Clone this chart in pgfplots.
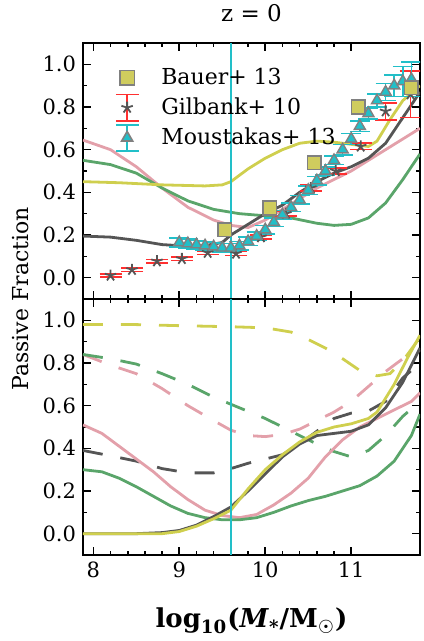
\documentclass[border=0pt]{standalone}
\usepackage{pgfplots}
\pgfplotsset{compat=1.18}
\usepgfplotslibrary{groupplots}
\usepackage{pgfplotstable}
\usepackage{fontspec}
\setmainfont{DejaVu Serif}
\newfontfamily\symfont{DejaVu Sans}
\usetikzlibrary{calc}

\definecolor{myyellow}{HTML}{CFCF4E}
\definecolor{mypink}{HTML}{E3A0AA}
\definecolor{mygreen}{HTML}{5AA56A}
\definecolor{mygrey}{HTML}{555555}
\definecolor{mycyan}{HTML}{22BFC8}
\definecolor{myred}{HTML}{FF3030}
\definecolor{sqfill}{HTML}{CFCC5E}

% observations, z = 0
\pgfplotstableread{
x y
9.53 0.225
10.05 0.327
10.57 0.538
11.08 0.80
11.70 0.89
}\bauer
\pgfplotstableread{
x y e
8.20 0.010 0.008
8.45 0.037 0.008
8.74 0.077 0.008
9.03 0.088 0.008
9.33 0.117 0.008
9.66 0.113 0.010
9.95 0.190 0.010
10.24 0.300 0.012
10.53 0.420 0.015
10.82 0.500 0.015
11.11 0.615 0.015
11.40 0.780 0.040
11.69 0.860 0.110
}\gilbank
\pgfplotstableread{
x y e
9.0 0.165 0.02
9.1 0.160 0.02
9.2 0.155 0.02
9.3 0.150 0.02
9.4 0.145 0.02
9.5 0.140 0.02
9.6 0.140 0.02
9.7 0.150 0.02
9.8 0.170 0.02
9.9 0.195 0.02
10.0 0.225 0.02
10.1 0.260 0.02
10.2 0.295 0.02
10.3 0.330 0.02
10.4 0.365 0.02
10.5 0.410 0.02
10.6 0.455 0.02
10.7 0.500 0.02
10.8 0.550 0.02
10.9 0.600 0.025
11.0 0.650 0.025
11.1 0.710 0.025
11.2 0.770 0.025
11.3 0.830 0.03
11.4 0.870 0.04
11.5 0.900 0.05
11.6 0.920 0.07
11.7 0.930 0.08
}\moustakas

\pgfplotsset{
  model/.style={line width=1.4pt, no markers, forget plot},
  mdash/.style={line width=1.4pt, no markers, forget plot, dash pattern=on 10pt off 9pt},
}

\begin{document}
\begin{tikzpicture}
\begin{groupplot}[group style={group size=1 by 2, vertical sep=0pt, x descriptions at=edge bottom},
    scale only axis, width=168.5pt, height=128pt,
    xmin=7.88, xmax=11.8, ymin=-0.1, ymax=1.1,
    xtick={8,9,10,11}, minor x tick num=4,
    ytick={0,0.2,0.4,0.6,0.8,1.0}, minor y tick num=1,
    tick align=inside, tick pos=both,
    major tick length=4pt, minor tick length=2pt,
    axis line style={line width=0.9pt},
    every tick/.style={black, line width=0.8pt},
    /pgf/number format/assume math mode=true,
    ticklabel style={font=\fontsize{10.5}{12}\selectfont},
    yticklabel={\pgfmathprintnumber[fixed, fixed zerofill, precision=1]{\tick}},
  ]
\nextgroupplot[
    title={z = 0}, title style={font=\fontsize{11.5}{13}\selectfont, yshift=1pt},
    legend style={draw=none, fill=none, at={(0.036,0.935)}, anchor=north west,
      font=\fontsize{11}{12}\selectfont, row sep=1.2pt},
    legend cell align=left]
\addlegendimage{legend image code/.code={
  \path[draw=none] (0,0) -- (0.98cm,0);
  \path[draw=none, mark=square*, mark size=3.6pt, mark options={fill=sqfill, draw=gray, line width=0.8pt}] plot coordinates {(0.45cm,0)};}}
\addlegendentry{Bauer+ 13}
\addlegendimage{legend image code/.code={
  \path[draw=none] (0,0) -- (0.98cm,0);
  \draw[myred, line width=0.8pt] (0.45cm,-0.23cm) -- (0.45cm,0.23cm)
    (0.25cm,-0.23cm) -- (0.65cm,-0.23cm) (0.25cm,0.23cm) -- (0.65cm,0.23cm);
  \path[draw=none, mark=star, mark size=3pt, mark options={draw=mygrey, line width=0.9pt}] plot coordinates {(0.45cm,0)};}}
\addlegendentry{Gilbank+ 10}
\addlegendimage{legend image code/.code={
  \path[draw=none] (0,0) -- (0.98cm,0);
  \draw[mycyan, line width=0.8pt] (0.45cm,-0.23cm) -- (0.45cm,0.23cm)
    (0.25cm,-0.23cm) -- (0.65cm,-0.23cm) (0.25cm,0.23cm) -- (0.65cm,0.23cm);
  \path[draw=none, mark=triangle*, mark size=3.2pt, mark options={fill=mycyan, draw=gray, line width=0.8pt}] plot coordinates {(0.45cm,0)};}}
\addlegendentry{Moustakas+ 13}

% models, top panel
\addplot[model, mypink] coordinates {(7.88,0.645) (8.2,0.60) (8.5,0.52) (8.8,0.42) (9.1,0.33) (9.4,0.27) (9.6,0.245) (9.8,0.235) (10.0,0.27) (10.2,0.32) (10.4,0.37) (10.6,0.42) (10.8,0.46) (11.0,0.50) (11.2,0.55) (11.4,0.60) (11.6,0.65) (11.8,0.70)};
\addplot[model, mygreen] coordinates {(7.88,0.55) (8.2,0.53) (8.5,0.49) (8.8,0.42) (9.1,0.36) (9.4,0.32) (9.7,0.30) (10.0,0.29) (10.3,0.28) (10.6,0.255) (10.8,0.245) (11.0,0.25) (11.2,0.28) (11.4,0.35) (11.6,0.46) (11.8,0.58)};
\addplot[model, myyellow] coordinates {(7.88,0.45) (8.3,0.445) (8.8,0.435) (9.3,0.43) (9.5,0.435) (9.6,0.45) (9.8,0.51) (10.0,0.56) (10.2,0.60) (10.4,0.63) (10.6,0.64) (10.8,0.635) (11.0,0.625) (11.2,0.615) (11.3,0.64) (11.45,0.74) (11.6,0.83) (11.8,0.90)};
\addplot[model, mygrey] coordinates {(7.88,0.195) (8.2,0.19) (8.5,0.175) (8.8,0.155) (9.0,0.15) (9.3,0.15) (9.5,0.165) (9.6,0.20) (9.8,0.25) (10.0,0.30) (10.2,0.34) (10.4,0.40) (10.6,0.45) (10.8,0.49) (11.0,0.52) (11.2,0.56) (11.4,0.63) (11.6,0.75) (11.8,0.87)};

% data
\addplot[forget plot, only marks, mark=star, mark size=3pt, mark options={draw=mygrey, line width=0.9pt},
  error bars/.cd, y dir=both, y explicit,
  error bar style={myred, line width=0.8pt},
  error mark options={rotate=90, mark size=5.5pt, myred, line width=0.8pt}]
  table[x=x, y=y, y error=e] {\gilbank};
\addplot[forget plot, only marks, mark=triangle*, mark size=3.2pt, mark options={fill=mycyan, draw=gray, line width=0.7pt},
  error bars/.cd, y dir=both, y explicit,
  error bar style={mycyan, line width=0.8pt},
  error mark options={rotate=90, mark size=5pt, mycyan, line width=0.8pt}]
  table[x=x, y=y, y error=e] {\moustakas};
\addplot[forget plot, only marks, mark=square*, mark size=3.4pt, mark options={fill=sqfill, draw=gray, line width=0.8pt}]
  table[x=x, y=y] {\bauer};

\addplot[forget plot, mycyan, line width=1pt] coordinates {(9.6,-0.1) (9.6,1.1)};

\nextgroupplot
% dashed models
\addplot[mdash, myyellow] coordinates {(7.88,0.98) (8.5,0.98) (9.0,0.975) (9.6,0.97) (10.0,0.965) (10.3,0.945) (10.5,0.91) (10.7,0.87) (10.9,0.82) (11.1,0.765) (11.3,0.74) (11.45,0.75) (11.6,0.81) (11.8,0.92)};
\addplot[mdash, mypink] coordinates {(7.88,0.84) (8.2,0.79) (8.5,0.75) (8.8,0.68) (9.1,0.60) (9.4,0.53) (9.6,0.485) (9.8,0.46) (10.0,0.455) (10.2,0.465) (10.4,0.49) (10.6,0.53) (10.8,0.57) (11.0,0.62) (11.2,0.69) (11.4,0.76) (11.6,0.82) (11.8,0.86)};
\addplot[mdash, mygreen] coordinates {(7.88,0.84) (8.2,0.82) (8.5,0.795) (8.8,0.75) (9.1,0.70) (9.4,0.64) (9.7,0.59) (10.0,0.54) (10.3,0.48) (10.6,0.42) (10.8,0.385) (11.0,0.36) (11.2,0.39) (11.4,0.46) (11.6,0.55) (11.8,0.62)};
\addplot[mdash, mygrey] coordinates {(7.88,0.39) (8.2,0.365) (8.5,0.34) (8.8,0.305) (9.1,0.285) (9.4,0.285) (9.6,0.305) (9.8,0.33) (10.0,0.35) (10.2,0.37) (10.4,0.42) (10.6,0.48) (10.8,0.54) (11.0,0.565) (11.2,0.575) (11.4,0.62) (11.6,0.73) (11.8,0.80)};
% solid models
\addplot[model, mypink] coordinates {(7.88,0.51) (8.1,0.47) (8.3,0.41) (8.5,0.35) (8.7,0.29) (8.9,0.22) (9.1,0.16) (9.3,0.11) (9.5,0.085) (9.7,0.075) (9.9,0.09) (10.1,0.135) (10.3,0.19) (10.5,0.26) (10.7,0.36) (10.9,0.44) (11.1,0.50) (11.3,0.54) (11.5,0.58) (11.7,0.62) (11.8,0.66)};
\addplot[model, mygreen] coordinates {(7.88,0.30) (8.1,0.29) (8.3,0.26) (8.5,0.22) (8.7,0.175) (8.9,0.13) (9.1,0.095) (9.3,0.075) (9.5,0.065) (9.7,0.065) (9.9,0.075) (10.1,0.10) (10.3,0.13) (10.5,0.155) (10.7,0.175) (10.9,0.20) (11.1,0.225) (11.3,0.27) (11.5,0.34) (11.7,0.46) (11.8,0.56)};
\addplot[model, mygrey] coordinates {(7.88,0.0) (8.5,0.0) (8.8,0.005) (9.0,0.015) (9.2,0.04) (9.4,0.08) (9.6,0.125) (9.8,0.20) (10.0,0.28) (10.2,0.36) (10.4,0.42) (10.6,0.46) (10.8,0.47) (11.0,0.48) (11.2,0.51) (11.4,0.59) (11.6,0.71) (11.8,0.87)};
\addplot[model, myyellow] coordinates {(7.88,0.0) (8.5,0.0) (8.8,0.0) (9.0,0.01) (9.2,0.035) (9.4,0.07) (9.6,0.11) (9.8,0.21) (10.0,0.30) (10.2,0.37) (10.4,0.43) (10.6,0.475) (10.8,0.50) (11.0,0.515) (11.2,0.54) (11.3,0.57) (11.5,0.70) (11.65,0.82) (11.8,0.93)};

\addplot[forget plot, mycyan, line width=1pt] coordinates {(9.6,-0.1) (9.6,1.1)};
\end{groupplot}

\node[rotate=90, font=\fontsize{11}{13}\selectfont] at ($(group c1r1.south west)+(-31pt,0)$) {Passive Fraction};
\node[font=\fontsize{13}{15}\selectfont\bfseries] at ($(group c1r2.south)+(0,-33pt)$) {log\textsubscript{10}(\textit{M}\textsubscript{*}/M\textsubscript{\symfont ☉})};

\pgfresetboundingbox
\path[use as bounding box] ($(group c1r1.north west)+(-41.5pt,21.5pt)$) rectangle ($(group c1r2.south west)+(170pt,-43pt)$);
\end{tikzpicture}
\end{document}
